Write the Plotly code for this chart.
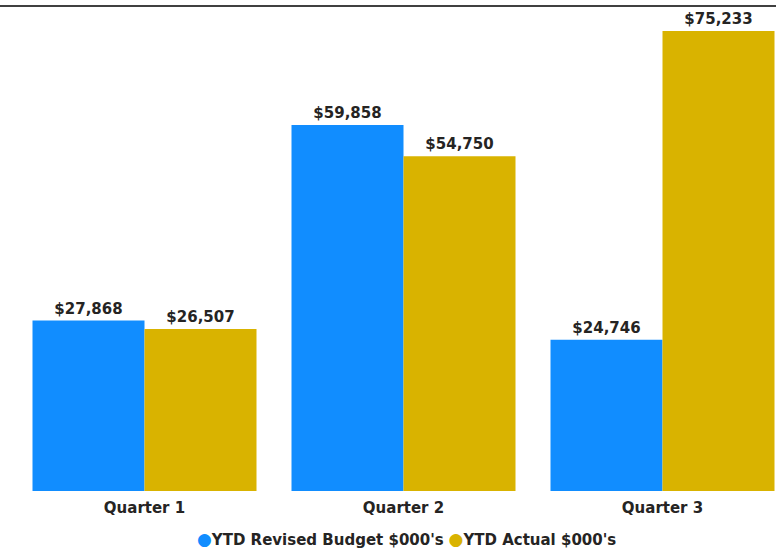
import plotly.graph_objects as go

categories = ["Quarter 1", "Quarter 2", "Quarter 3"]
budget = [27868, 59858, 24746]
actual = [26507, 54750, 75233]
series_names = ["YTD Revised Budget $000's", "YTD Actual $000's"]
colors = ["#118DFF", "#D9B300"]

W, H = 776, 550
ml, mr, mt, mb = 15, 0, 10, 59
plot_w = W - ml - mr
plot_h = H - mt - mb
cat_px = 259
FONT = "DejaVu Sans"
TXT = "#252423"

fig = go.Figure()
for vals, name, col in [(budget, series_names[0], colors[0]), (actual, series_names[1], colors[1])]:
    fig.add_trace(go.Bar(
        x=categories, y=vals, name=name, marker=dict(color=col, line=dict(width=0)),
        text=[f"${v:,}" for v in vals], textposition="outside", cliponaxis=False,
        textfont=dict(family=FONT, size=15, color=TXT),
        texttemplate="<b>%{text}</b>", showlegend=False,
    ))

legend_text = " ".join(
    f"<span style='color:{c};font-size:17px'>●</span><b>{n}</b>" for n, c in zip(series_names, colors)
)

fig.update_layout(
    width=W, height=H,
    margin=dict(l=ml, r=mr, t=mt, b=mb),
    plot_bgcolor="white", paper_bgcolor="white",
    barmode="group", bargap=35 / cat_px, bargroupgap=0,
    showlegend=False,
    xaxis=dict(range=[-0.5, -0.5 + plot_w / cat_px], showgrid=False, zeroline=False,
               showline=False, ticks="", ticklabelstandoff=6,
               tickfont=dict(family=FONT, size=15, color=TXT),
               tickvals=categories, ticktext=[f"<b>{c}</b>" for c in categories]),
    yaxis=dict(range=[0, 78670], visible=False, showgrid=False, zeroline=False),
    annotations=[dict(text=legend_text, xref="paper", yref="paper",
                      x=(406 - ml) / plot_w, xanchor="center",
                      y=-(539 - mt - plot_h) / plot_h, yanchor="middle",
                      showarrow=False, font=dict(family=FONT, size=15, color=TXT))],
    shapes=[dict(type="line", xref="paper", yref="paper", x0=-ml / plot_w, x1=1,
                 y0=1 + 4 / plot_h, y1=1 + 4 / plot_h,
                 line=dict(color="black", width=1.5))],
)
fig.write_html("out.html", config={"displayModeBar": False},
               post_script="document.body.style.margin='0';")
